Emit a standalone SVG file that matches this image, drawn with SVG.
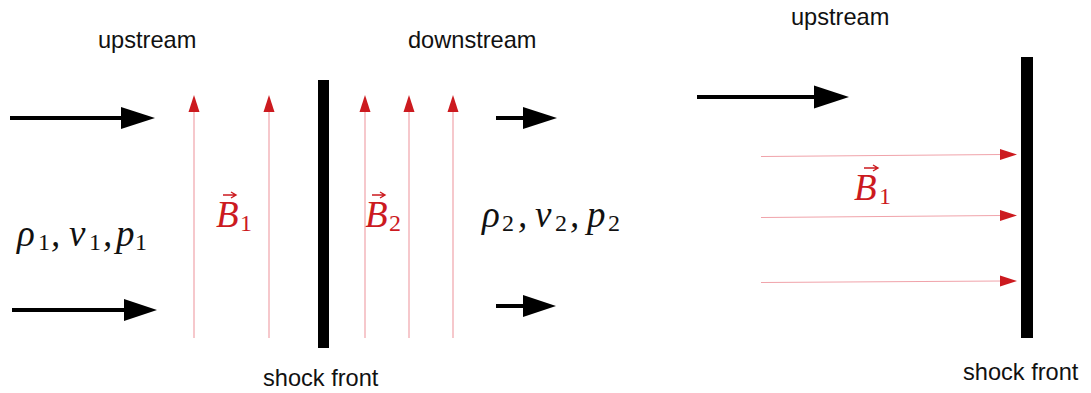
<svg xmlns="http://www.w3.org/2000/svg" width="1091" height="393" viewBox="0 0 1091 393">
<style>
.lbl{font-family:"Liberation Sans",Arial,sans-serif;font-size:23.6px;fill:#111}
.math{font-family:"Liberation Serif","Times New Roman",serif;font-style:italic;font-size:37px;fill:#111}
.sub{font-style:normal;font-size:24px}
.red{fill:#cc1a1f}
.flow{stroke:#000;stroke-width:4;fill:none}
.head{fill:#000}
.field{stroke:#f0a3aa;stroke-width:1.2;fill:none}
.fhead{fill:#cc1a1f}
.bar{fill:#000}
.vec{stroke:#cc1a1f;stroke-width:1.4;fill:none}
</style>
<rect width="1091" height="393" fill="#fff"/>
<g id="label-upstream-left"><text class="lbl" x="98" y="48">upstream</text></g>
<g id="label-downstream"><text class="lbl" x="408" y="48">downstream</text></g>
<g id="label-upstream-right"><text class="lbl" x="791" y="25">upstream</text></g>
<g id="shock-left"><rect class="bar" x="318" y="80" width="11" height="268"/><text class="lbl" x="263" y="386">shock front</text></g>
<g id="shock-right"><rect class="bar" x="1021" y="57" width="12" height="281"/><text class="lbl" x="963" y="380">shock front</text></g>
<g id="state1"><text class="math" y="246"><tspan x="17">ρ</tspan><tspan class="sub" x="38" y="250">1</tspan><tspan x="51" y="246">,</tspan><tspan x="69">v</tspan><tspan class="sub" x="89" y="250">1</tspan><tspan x="103" y="246">,</tspan><tspan x="116">p</tspan><tspan class="sub" x="135" y="250">1</tspan></text></g>
<g id="state2"><text class="math" y="227"><tspan x="482">ρ</tspan><tspan class="sub" x="502" y="231">2</tspan><tspan x="518" y="227">,</tspan><tspan x="535">v</tspan><tspan class="sub" x="555" y="231">2</tspan><tspan x="570" y="227">,</tspan><tspan x="587">p</tspan><tspan class="sub" x="608" y="231">2</tspan></text></g>
<g id="B1-left"><text class="math red" y="227"><tspan x="216">B</tspan><tspan class="sub" x="240" y="231">1</tspan></text><path class="vec" d="M223 195 H235 M231 192 L236 195 L231 198"/></g>
<g id="B2"><text class="math red" y="227"><tspan x="365">B</tspan><tspan class="sub" x="389" y="231">2</tspan></text><path class="vec" d="M372 195 H384 M380 192 L385 195 L380 198"/></g>
<g id="B1-right"><text class="math red" y="200"><tspan x="854">B</tspan><tspan class="sub" x="879" y="204">1</tspan></text><path class="vec" d="M864 168 H877 M873 165 L878 168 L873 171"/></g>
<g id="connectors">
<line class="flow" x1="10" y1="118" x2="123" y2="118"/><polygon class="head" points="121,107 155,118 121,129"/>
<line class="flow" x1="12" y1="310" x2="126" y2="310"/><polygon class="head" points="124,299 157,310 124,321"/>
<line class="flow" x1="496" y1="118" x2="525" y2="118"/><polygon class="head" points="523,107 557,118 523,129"/>
<line class="flow" x1="496" y1="306" x2="525" y2="306"/><polygon class="head" points="523,295 556,306 523,317"/>
<line class="flow" x1="697" y1="97" x2="816" y2="97"/><polygon class="head" points="814,85.5 849,97 814,108.5"/>
<line class="field" x1="194" y1="338" x2="194" y2="110"/><polygon class="fhead" points="188.5,112 194,95 199.5,112"/>
<line class="field" x1="269" y1="338" x2="269" y2="110"/><polygon class="fhead" points="263.5,112 269,95 274.5,112"/>
<line class="field" x1="365" y1="338" x2="365" y2="110"/><polygon class="fhead" points="359.5,112 365,95 370.5,112"/>
<line class="field" x1="409" y1="338" x2="409" y2="110"/><polygon class="fhead" points="403.5,112 409,95 414.5,112"/>
<line class="field" x1="453" y1="338" x2="453" y2="110"/><polygon class="fhead" points="447.5,112 453,95 458.5,112"/>
<line class="field" x1="761" y1="156.5" x2="1002" y2="154.5"/><polygon class="fhead" points="1000,149 1017,154.5 1000,160"/>
<line class="field" x1="761" y1="217.5" x2="1002" y2="215.5"/><polygon class="fhead" points="1000,210 1017,215.5 1000,221"/>
<line class="field" x1="761" y1="282.5" x2="1002" y2="281"/><polygon class="fhead" points="1000,275.5 1017,281 1000,286.5"/>
</g>
</svg>
